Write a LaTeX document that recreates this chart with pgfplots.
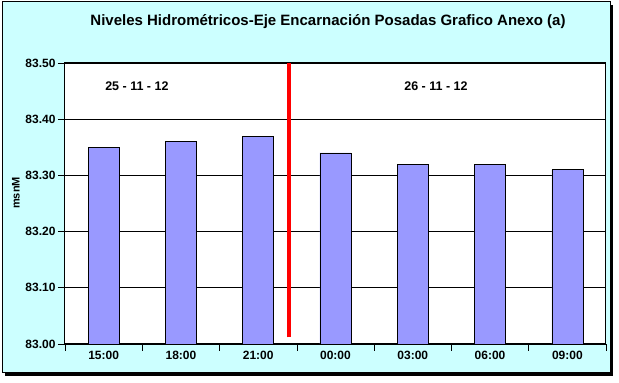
\documentclass[border=0pt]{standalone}
\usepackage{pgfplots}
\pgfplotsset{compat=1.18}
\usepackage{fontspec}
\setmainfont{Liberation Sans}
\definecolor{bgcyan}{HTML}{CCFFFF}
\definecolor{barblue}{HTML}{9999FF}
\begin{document}
\begin{tikzpicture}
\path[use as bounding box] (0pt,0pt) rectangle (619pt,383pt);
% shadow
\fill[black] (5pt,7pt) rectangle (613pt,378pt);
\fill[bgcyan] (2pt,10pt) rectangle (610pt,381pt);
\draw[black, line width=1pt] (2pt,10pt) rectangle (610pt,381pt);
\begin{axis}[
  at={(65pt,39pt)}, anchor=south west,
  width=541pt, height=281pt, scale only axis,
  xmin=-0.5, xmax=6.5, ymin=83, ymax=83.5,
  axis background/.style={fill=white},
  axis line style={black, line width=1pt},
  ytick={83.0,83.1,83.2,83.3,83.4,83.5},
  yticklabel style={font=\fontsize{12}{14}\selectfont\bfseries, xshift=1pt,
    /pgf/number format/fixed, /pgf/number format/fixed zerofill,
    /pgf/number format/precision=2, /pgf/number format/assume math mode=true},
  ymajorgrids, grid style={black, line width=0.7pt},
  xtick={-0.5,0.5,...,6.5}, xticklabels={},
  extra x ticks={0,1,2,3,4,5,6},
  extra x tick labels={15:00,18:00,21:00,00:00,03:00,06:00,09:00},
  extra x tick style={major tick length=0pt, grid=none, tick label style={font=\fontsize{12}{14}\selectfont\bfseries, yshift=-4pt}},
  tick align=outside, major tick length=7pt,
  tick style={black, line width=0.7pt},
  xtick pos=bottom, ytick pos=left,
]
\addplot[ybar, bar width=31pt, bar shift=0pt, fill=barblue, draw=black, line width=0.7pt]
  coordinates {(0,83.35) (1,83.36) (2,83.37) (3,83.34) (4,83.32) (5,83.32) (6,83.31)};
\addplot[red, line width=4.5pt] coordinates {(2.4,83.012) (2.4,83.5)};
\node[font=\fontsize{12.5}{14}\selectfont\bfseries] at (axis cs:0.43,83.459) {25 - 11 - 12};
\node[font=\fontsize{12.5}{14}\selectfont\bfseries] at (axis cs:4.3,83.459) {26 - 11 - 12};
\end{axis}
\node[font=\fontsize{15}{17}\selectfont\bfseries] at (328pt,361pt) {Niveles Hidrométricos-Eje Encarnación Posadas Grafico Anexo (a)};
\node[rotate=90, font=\fontsize{11}{13}\selectfont\bfseries] at (16pt,190pt) {msnM};
\end{tikzpicture}
\end{document}
